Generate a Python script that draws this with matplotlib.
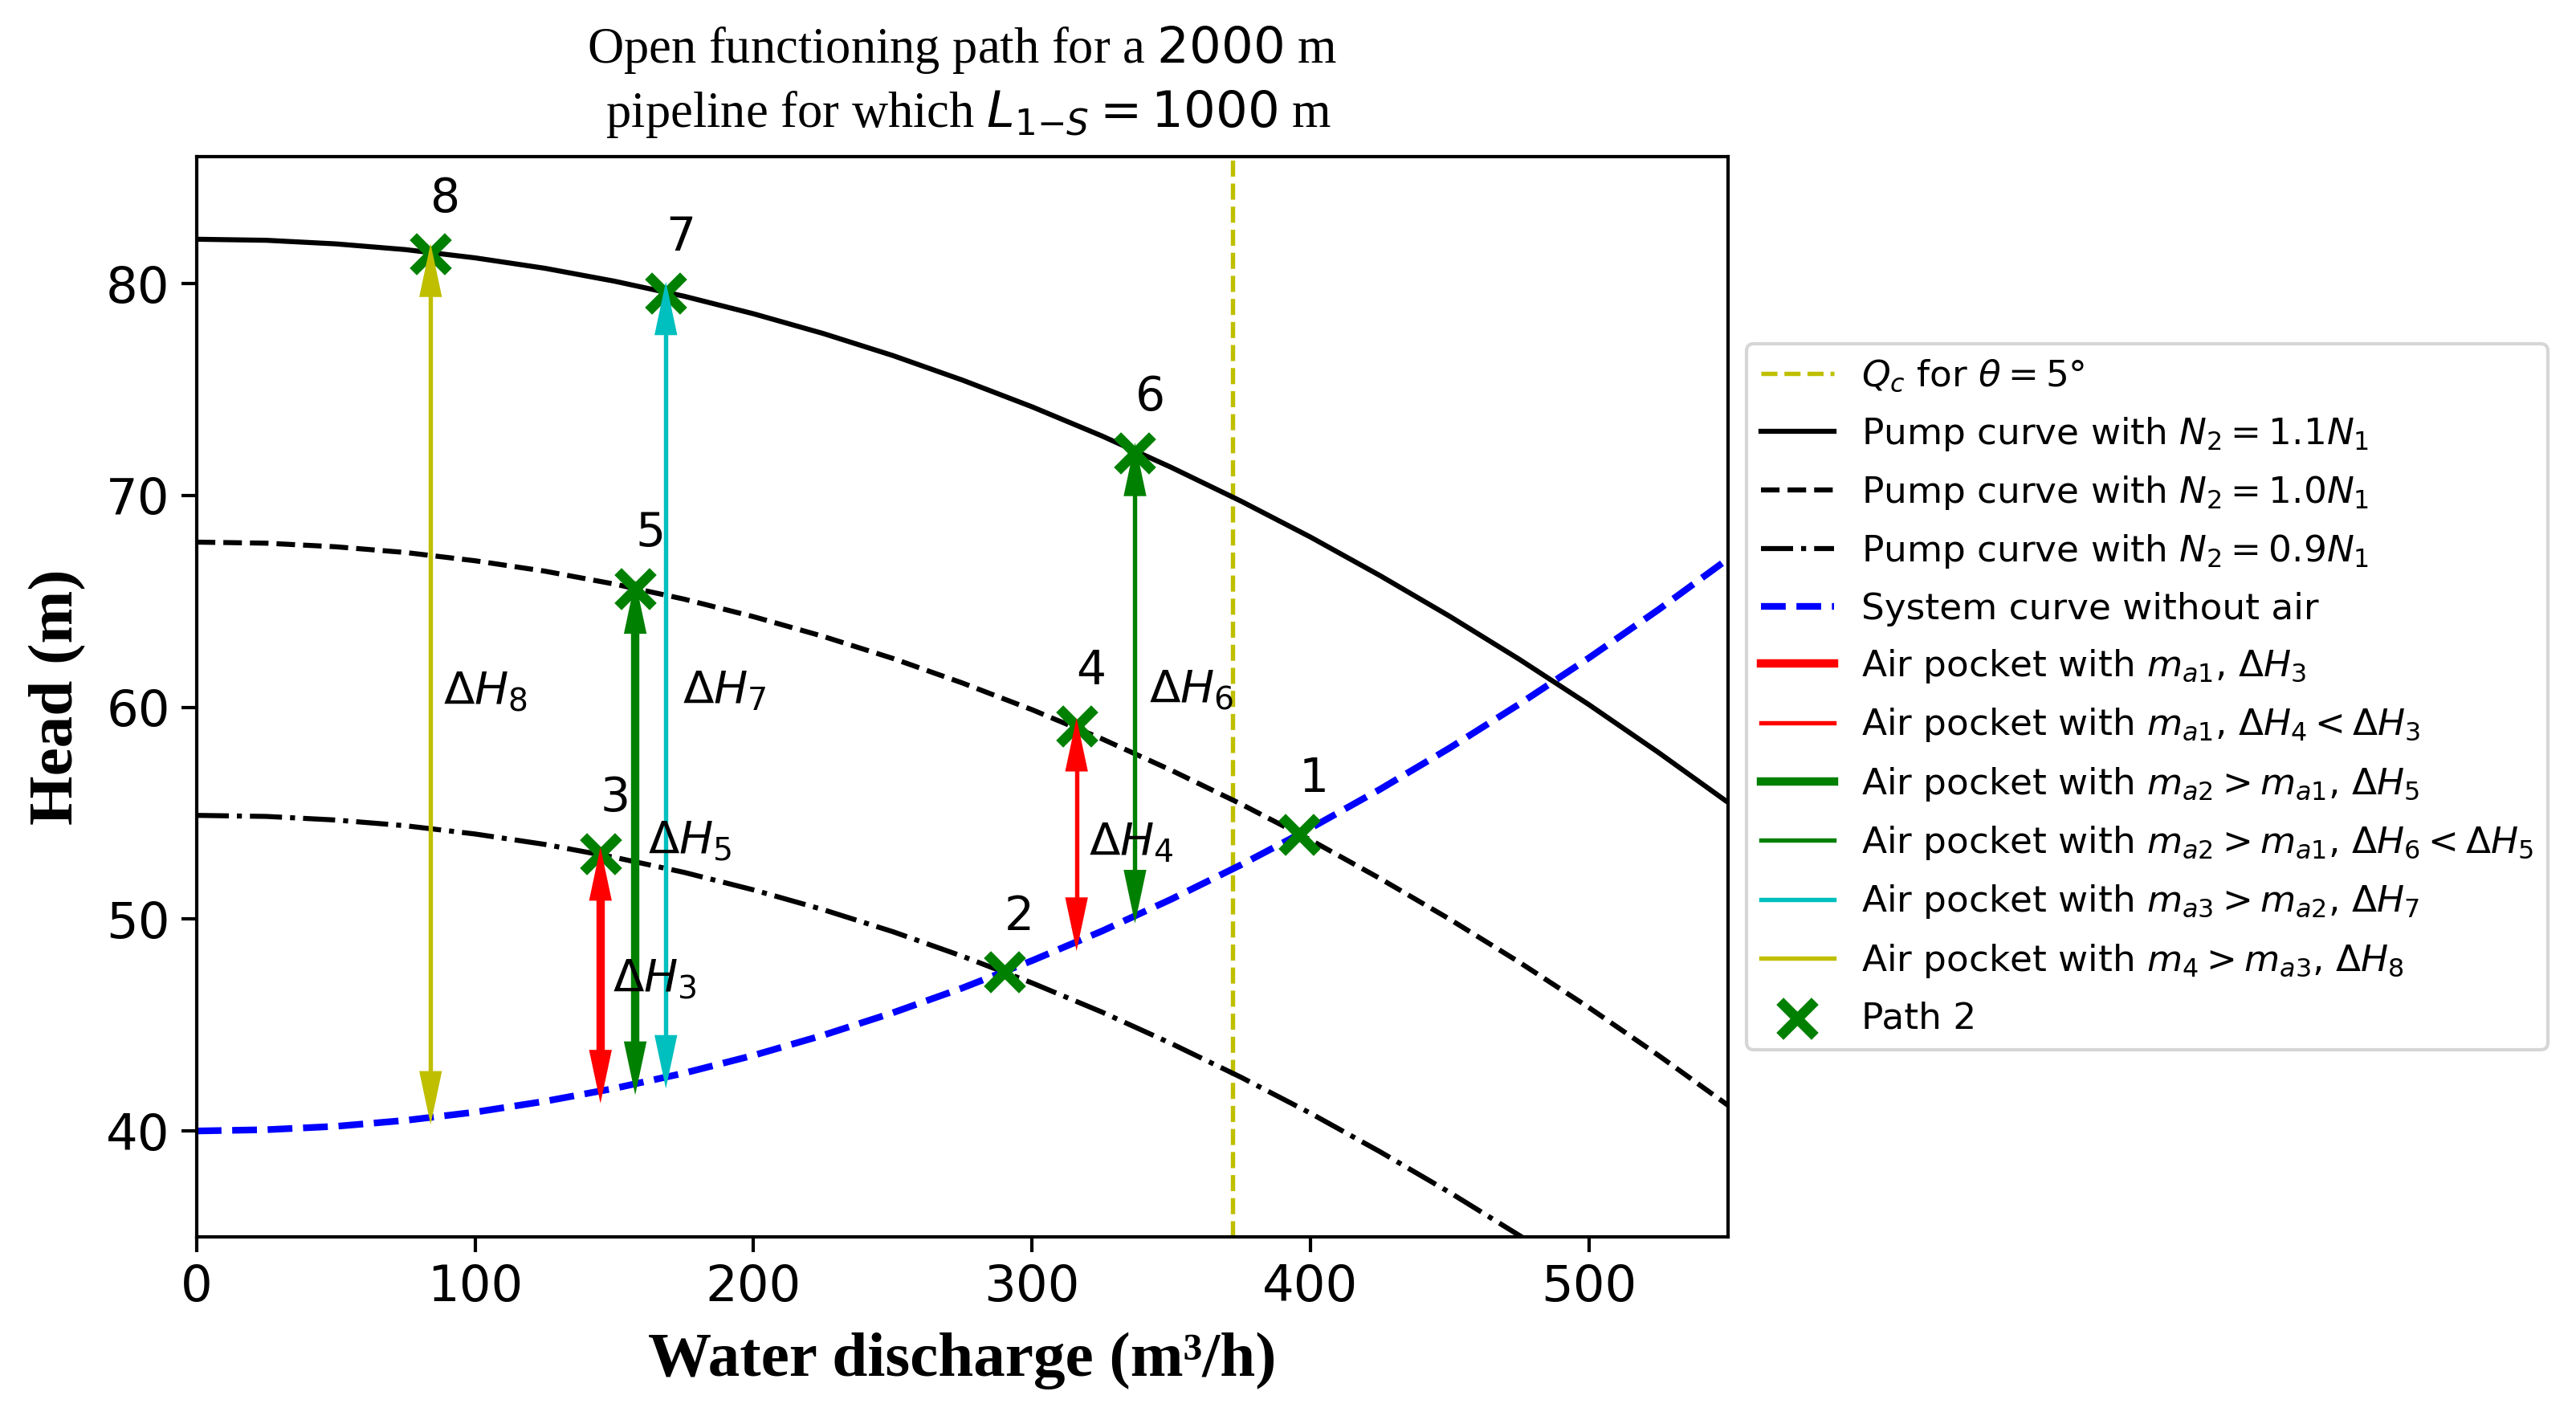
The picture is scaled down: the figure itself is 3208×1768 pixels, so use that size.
import matplotlib
matplotlib.use('Agg')
import matplotlib.pyplot as plt
from matplotlib.lines import Line2D

# ---------------- data ----------------
Q = [0, 25, 50, 75, 100, 125, 150, 175, 200, 225, 250, 275,
     300, 325, 350, 375, 400, 425, 450, 475, 500, 525, 550]
H_pump_11 = [82.10, 82.05, 81.88, 81.61, 81.22, 80.73, 80.12, 79.41, 78.58, 77.65, 76.61, 75.45,
             74.19, 72.82, 71.33, 69.74, 68.04, 66.22, 64.30, 62.27, 60.13, 57.87, 55.51]
H_pump_10 = [67.80, 67.75, 67.58, 67.31, 66.92, 66.43, 65.82, 65.11, 64.28, 63.35, 62.31, 61.15,
             59.89, 58.52, 57.03, 55.44, 53.74, 51.92, 50.00, 47.97, 45.83, 43.57, 41.21]
H_pump_09 = [54.90, 54.85, 54.68, 54.41, 54.02, 53.53, 52.92, 52.21, 51.38, 50.45, 49.41, 48.25,
             46.99, 45.62, 44.13, 42.54, 40.84, 39.02, 37.10, 35.07, 32.93, 30.67, 28.31]
H_system = [40.00, 40.06, 40.22, 40.50, 40.89, 41.40, 42.01, 42.73, 43.57, 44.52, 45.58, 46.75,
            48.04, 49.43, 50.94, 52.56, 54.29, 56.13, 58.08, 60.15, 62.33, 64.61, 67.01]
Q_c = 372

path_labels = ['1', '2', '3', '4', '5', '6', '7', '8']
path_Q = [396, 290, 145, 316, 157.5, 337, 168.5, 84]
path_H = [54.0, 47.5, 53.1, 59.1, 65.6, 72.0, 79.55, 81.4]

# arrows for points 3..8
arrow_Q = [145, 316, 157.5, 337, 168.5, 84]
arrow_top = [53.4, 59.5, 66.0, 72.5, 80.1, 81.9]
arrow_bottom = [41.3, 48.5, 41.7, 49.8, 42.0, 40.3]
arrow_colors = ['r', 'r', 'g', 'g', 'c', 'y']
arrow_lw = [2.5, 1.3, 2.5, 1.3, 1.3, 1.3]

dh_labels = [r'$\Delta H_3$', r'$\Delta H_4$', r'$\Delta H_5$',
             r'$\Delta H_6$', r'$\Delta H_7$', r'$\Delta H_8$']
dh_Q = [149.5, 320.5, 162, 342, 174.5, 88.5]
dh_H = [46.6, 53.05, 53.1, 60.25, 60.2, 60.2]

legend_arrow_labels = [
    r'Air pocket with $m_{a1}$, $\Delta H_3$',
    r'Air pocket with $m_{a1}$, $\Delta H_4 < \Delta H_3$',
    r'Air pocket with $m_{a2} > m_{a1}$, $\Delta H_5$',
    r'Air pocket with $m_{a2} > m_{a1}$, $\Delta H_6 < \Delta H_5$',
    r'Air pocket with $m_{a3} > m_{a2}$, $\Delta H_7$',
    r'Air pocket with $m_4 > m_{a3}$, $\Delta H_8$',
]

# ---------------- figure ----------------
DPI = 300
fig = plt.figure(figsize=(3208 / DPI, 1768 / DPI), dpi=DPI)
ax = fig.add_axes([245 / 3208, 1 - 1540 / 1768, (2152 - 245) / 3208, (1540 - 195) / 1768])

for s in ax.spines.values():
    s.set_linewidth(1.0)
ax.tick_params(length=4.5, width=1.0, labelsize=15)

ax.axvline(Q_c, color='y', linestyle='--', lw=1.3, label=r'$Q_c$ for $\theta = 5°$')
ax.plot(Q, H_pump_11, color='k', linestyle='-', lw=1.5, label=r'Pump curve with $N_2 = 1.1N_1$')
ax.plot(Q, H_pump_10, color='k', linestyle='--', lw=1.5, label=r'Pump curve with $N_2 = 1.0N_1$')
ax.plot(Q, H_pump_09, color='k', linestyle='-.', lw=1.5, label=r'Pump curve with $N_2 = 0.9N_1$')
ax.plot(Q, H_system, color='b', linestyle='--', lw=2.0, label='System curve without air')

ax.set_xlim(0, 550)
ax.set_ylim(35, 86)

# double arrows: filled heads (unstroked, so tips land exactly) + shaft line
HEAD_MS = 20.0          # mutation scale in points
HEAD_LEN = 0.8          # fraction of mutation scale
HEAD_HW = 0.17          # half width fraction
head_len_pts = HEAD_LEN * HEAD_MS
ax_h_px = ax.get_position().height * fig.get_figheight() * DPI
units_per_px = (86 - 35) / ax_h_px
head_len_data = head_len_pts * DPI / 72 * units_per_px

for q, top, bot, c, lw in zip(arrow_Q, arrow_top, arrow_bottom, arrow_colors, arrow_lw):
    ax.plot([q, q], [bot + 0.7 * head_len_data, top - 0.7 * head_len_data],
            color=c, lw=lw, solid_capstyle='butt', zorder=3)
    ax.annotate('', xy=(q, bot), xytext=(q, top),
                arrowprops=dict(arrowstyle=f'<|-|>,head_length={HEAD_LEN},head_width={HEAD_HW}',
                                mutation_scale=HEAD_MS, color=c, lw=0,
                                shrinkA=0, shrinkB=0), zorder=3)

proxies = [Line2D([], [], color=c, lw=lw) for c, lw in zip(arrow_colors, arrow_lw)]

sc = ax.scatter(path_Q, path_H, marker='x', color='g', s=110, linewidths=3, zorder=2.5,
                label='Path 2')

for lab, q, h in zip(path_labels, path_Q, path_H):
    ax.text(q, h + 2, lab, fontsize=14)

for lab, q, h in zip(dh_labels, dh_Q, dh_H):
    ax.text(q, h, lab, fontsize=13.5)

ax.set_xticks([0, 100, 200, 300, 400, 500])
ax.set_yticks([40, 50, 60, 70, 80])

serif = 'Liberation Serif'
ax.set_xlabel('Water discharge (m³/h)', fontname=serif, fontweight='bold', fontsize=19, labelpad=6)
ax.set_ylabel('Head (m)', fontname=serif, fontweight='bold', fontsize=19, labelpad=6)
ax.set_title('Open functioning path for a $2000$ m\n pipeline for which $L_{1{-}S} = 1000$ m',
             fontname=serif, fontsize=15, pad=9, linespacing=1.32)

handles, labels = ax.get_legend_handles_labels()
line_h = handles[:5]
line_l = labels[:5]
all_h = line_h + proxies + [sc]
all_l = line_l + legend_arrow_labels + ['Path 2']
ax.legend(all_h, all_l, loc='center left', bbox_to_anchor=(1.0, 0.5), fontsize=10.9,
          labelspacing=0.58, handletextpad=0.75)

fig.savefig('out.png', dpi=DPI)
